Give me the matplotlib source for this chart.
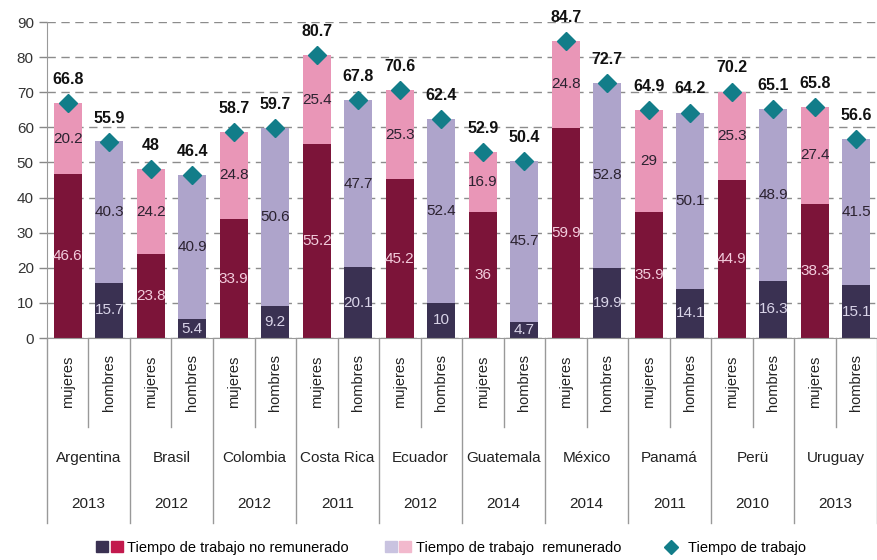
import matplotlib
matplotlib.use("Agg")
import matplotlib.pyplot as plt
from matplotlib.legend_handler import HandlerTuple
from matplotlib.patches import Patch
from matplotlib.lines import Line2D
import numpy as np

plt.rcParams['font.family'] = ['Liberation Sans', 'DejaVu Sans']

# data
countries = ["Argentina", "Brasil", "Colombia", "Costa Rica", "Ecuador",
             "Guatemala", "México", "Panamá", "Perü", "Uruguay"]
years = ["2013", "2012", "2012", "2011", "2012", "2014", "2014", "2011", "2010", "2013"]
sexes = ["mujeres", "hombres"]

muj_no_rem = [46.6, 23.8, 33.9, 55.2, 45.2, 36, 59.9, 35.9, 44.9, 38.3]
muj_rem = [20.2, 24.2, 24.8, 25.4, 25.3, 16.9, 24.8, 29, 25.3, 27.4]
muj_total = [66.8, 48, 58.7, 80.7, 70.6, 52.9, 84.7, 64.9, 70.2, 65.8]

hom_no_rem = [15.7, 5.4, 9.2, 20.1, 10, 4.7, 19.9, 14.1, 16.3, 15.1]
hom_rem = [40.3, 40.9, 50.6, 47.7, 52.4, 45.7, 52.8, 50.1, 48.9, 41.5]
hom_total = [55.9, 46.4, 59.7, 67.8, 62.4, 50.4, 72.7, 64.2, 65.1, 56.6]

c_muj_no = "#7c1439"
c_hom_no = "#3a3152"
c_muj_rem = "#e996b7"
c_hom_rem = "#aea4cb"
c_diam = "#127d89"

fig = plt.figure(figsize=(8.78, 5.6), dpi=100)
ax = fig.add_axes([0.0535, 0.3964, 0.9455, 0.5643])

n = len(countries)
x_m = np.arange(n) * 2 + 0.5
x_h = np.arange(n) * 2 + 1.5
w = 0.68

ax.bar(x_m, muj_no_rem, w, color=c_muj_no, zorder=2)
ax.bar(x_m, muj_rem, w, bottom=muj_no_rem, color=c_muj_rem, zorder=2)
ax.bar(x_h, hom_no_rem, w, color=c_hom_no, zorder=2)
ax.bar(x_h, hom_rem, w, bottom=hom_no_rem, color=c_hom_rem, zorder=2)

ax.plot(x_m, muj_total, 'D', color=c_diam, ms=9, zorder=3, clip_on=False)
ax.plot(x_h, hom_total, 'D', color=c_diam, ms=9, zorder=3, clip_on=False)

def fmt(v):
    return f"{v:g}"

for i in range(n):
    ax.text(x_m[i], muj_no_rem[i] / 2, fmt(muj_no_rem[i]), ha='center', va='center',
            fontsize=11, color="#f3cddd", zorder=4)
    ax.text(x_m[i], muj_no_rem[i] + muj_rem[i] / 2, fmt(muj_rem[i]), ha='center',
            va='center', fontsize=11, color="#2b2230", zorder=4)
    ax.text(x_h[i], hom_no_rem[i] / 2, fmt(hom_no_rem[i]), ha='center', va='center',
            fontsize=11, color="#d9d4e8", zorder=4)
    ax.text(x_h[i], hom_no_rem[i] + hom_rem[i] / 2, fmt(hom_rem[i]), ha='center',
            va='center', fontsize=11, color="#2b2230", zorder=4)
    ax.annotate(fmt(muj_total[i]), (x_m[i], muj_total[i]), xytext=(0, 17),
                textcoords='offset points', ha='center', va='center',
                fontsize=11.5, fontweight='bold', color="#111111", zorder=4)
    ax.annotate(fmt(hom_total[i]), (x_h[i], hom_total[i]), xytext=(0, 17),
                textcoords='offset points', ha='center', va='center',
                fontsize=11.5, fontweight='bold', color="#111111", zorder=4)

ax.set_xlim(0, 2 * n)
ax.set_ylim(0, 90)
ax.set_yticks(range(0, 91, 10))
ax.tick_params(axis='y', labelsize=11, labelcolor="#333333", color="#888888",
               length=6, width=1)
ax.set_xticks([])
ax.yaxis.grid(True, linestyle=(0, (6, 4)), color="#8c8c8c", linewidth=1, zorder=0)
ax.set_axisbelow(True)
for s in ['top', 'right']:
    ax.spines[s].set_visible(False)
ax.spines['left'].set_color("#999999")
ax.spines['bottom'].set_color("#999999")

# category labels under the axis
trans = ax.get_xaxis_transform()
for i in range(n):
    ax.text(x_m[i], -0.14, sexes[0], rotation=90, ha='center', va='center',
            fontsize=10.5, color="#222222", transform=trans)
    ax.text(x_h[i], -0.14, sexes[1], rotation=90, ha='center', va='center',
            fontsize=10.5, color="#222222", transform=trans)
    ax.text(2 * i + 1, -0.38, countries[i], ha='center', va='center',
            fontsize=11, color="#222222", transform=trans)
    ax.text(2 * i + 1, -0.525, years[i], ha='center', va='center',
            fontsize=11, color="#222222", transform=trans)
    ax.plot([2 * i + 1, 2 * i + 1], [0, -0.282], color="#999999", lw=1,
            transform=trans, clip_on=False)
for i in range(n + 1):
    ax.plot([2 * i, 2 * i], [0, -0.585], color="#999999", lw=1,
            transform=trans, clip_on=False)

# legend
h1 = (Patch(color=c_hom_no), Patch(color="#c2194d"))
h2 = (Patch(color="#c9c3e0"), Patch(color="#f2b9cd"))
h3 = Line2D([], [], marker='D', color=c_diam, linestyle='None', ms=7)
fig.legend([h1, h2, h3],
           ["Tiempo de trabajo no remunerado", "Tiempo de trabajo  remunerado",
            "Tiempo de trabajo"],
           handler_map={tuple: HandlerTuple(ndivide=None, pad=0.15)},
           ncol=3, loc='center', bbox_to_anchor=(0.514, 0.022), frameon=False,
           fontsize=10.5, handlelength=1.8, handletextpad=0.3, columnspacing=2.5)

fig.savefig("out.png", dpi=100)
